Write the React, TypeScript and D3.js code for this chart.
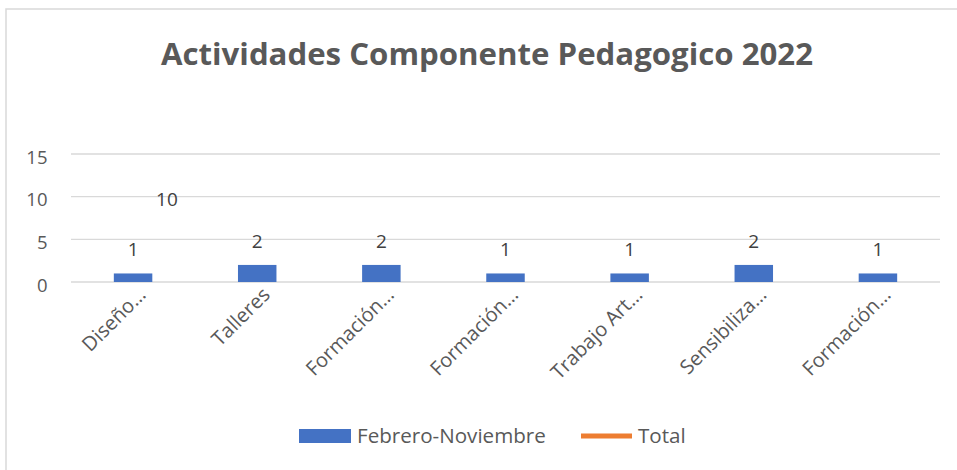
import React from "react";
import * as d3 from "d3";

const categories = [
  "Diseño…",
  "Talleres",
  "Formación…",
  "Formación…",
  "Trabajo Art…",
  "Sensibiliza…",
  "Formación…",
];
const febreroNoviembre = [1, 2, 2, 1, 1, 2, 1];
const total: (number | null)[] = [10, null, null, null, null, null, null];
const yTicks = [0, 5, 10, 15];
const title = "Actividades Componente Pedagogico 2022";
const seriesNames = ["Febrero-Noviembre", "Total"];

const W = 957;
const H = 470;
const BLUE = "#4472C4";
const ORANGE = "#ED7D31";
const FONT = "'Open Sans', 'DejaVu Sans', sans-serif";

export default function App() {
  const x = d3
    .scaleBand<number>()
    .domain(categories.map((_, i) => i))
    .range([71, 940])
    .padding(0);
  const y = d3.scaleLinear().domain([0, 15]).range([282, 154]);
  const bw = x.bandwidth() * 0.31;
  const cx = (i: number) => (x(i) as number) + x.bandwidth() / 2;

  const line = d3
    .line<number | null>()
    .defined((d) => d !== null)
    .x((_, i) => cx(i))
    .y((d) => y(d as number));

  return (
    <svg
      width={W}
      height={H}
      style={{ position: "absolute", left: 0, top: 0, display: "block", background: "#fff" }}
      fontFamily={FONT}
    >
      <rect x={6} y={9} width={W} height={H} fill="#fff" stroke="#d9d9d9" strokeWidth={1.5} />
      <text x={487} y={65} textAnchor="middle" fontSize={31.2} fontWeight={700} fill="#595959">
        {title}
      </text>

      {yTicks.map((t) => (
        <g key={t}>
          <line x1={71} x2={940} y1={y(t)} y2={y(t)} stroke="#d9d9d9" strokeWidth={1.3} />
          <text x={47.5} y={y(t) + 9.5} textAnchor="end" fontSize={18.5} fill="#595959">
            {t}
          </text>
        </g>
      ))}

      {febreroNoviembre.map((v, i) => (
        <g key={i}>
          <rect x={cx(i) - bw / 2} y={y(v)} width={bw} height={y(0) - y(v)} fill={BLUE} />
          <text x={cx(i)} y={y(v) - 17} textAnchor="middle" fontSize={19} fill="#404040">
            {v}
          </text>
        </g>
      ))}

      <path d={line(total) || ""} fill="none" stroke={ORANGE} strokeWidth={2.5} strokeLinecap="butt" />
      {total.map((v, i) =>
        v === null ? null : (
          <text key={i} x={cx(i) + 23} y={y(v) + 9} textAnchor="start" fontSize={19} fill="#404040">
            {v}
          </text>
        )
      )}

      {categories.map((c, i) => (
        <text
          key={i}
          transform={`translate(${cx(i) + 14},${296}) rotate(-45)`}
          textAnchor="end"
          fontSize={20}
          fill="#595959"
        >
          {c}
        </text>
      ))}

      <rect x={299} y={429} width={52} height={14} fill={BLUE} />
      <text x={357} y={443} fontSize={20.6} fill="#595959">
        {seriesNames[0]}
      </text>
      <line x1={581} x2={632} y1={436} y2={436} stroke={ORANGE} strokeWidth={5} />
      <text x={638} y={443} fontSize={20.6} fill="#595959">
        {seriesNames[1]}
      </text>
    </svg>
  );
}
